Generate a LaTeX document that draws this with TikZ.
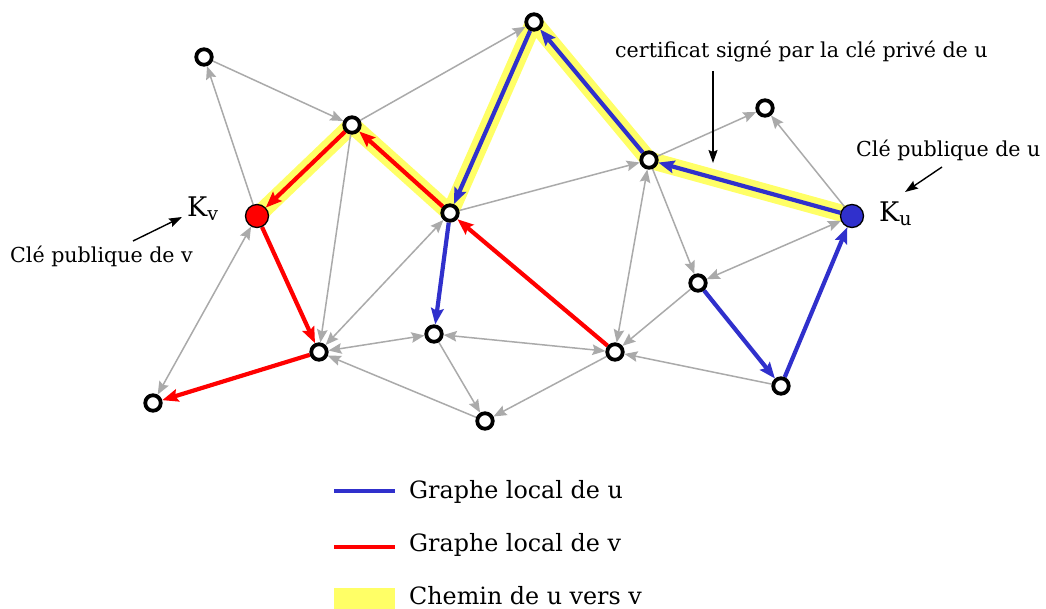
\documentclass[tikz,border=0pt]{standalone}
\usepackage{fontspec}
\setmainfont{DejaVu Serif}
\usetikzlibrary{arrows.meta}
\definecolor{ublue}{RGB}{48,48,204}
\definecolor{vred}{RGB}{255,0,0}
\definecolor{hlyellow}{RGB}{255,255,102}
\definecolor{edgegray}{RGB}{170,170,170}
\pgfdeclarelayer{bg}
\pgfsetlayers{bg,main}

\begin{document}
\begin{tikzpicture}[x=1pt,y=-1pt,
  peer/.style={circle,draw=black,fill=white,line width=3.8pt,minimum size=15.5pt,inner sep=0pt},
  keypeer/.style={circle,draw=black,line width=1.3pt,minimum size=23pt,inner sep=0pt},
  graytip/.tip={Stealth[length=13pt,width=10.5pt,inset=2pt]},
  colortip/.tip={Stealth[length=16pt,width=12.5pt,inset=2.5pt]},
  link/.style={draw=edgegray,line width=1.5pt,-graytip},
  bilink/.style={draw=edgegray,line width=1.5pt,graytip-graytip},
  ulink/.style={draw=ublue,line width=4.2pt,-colortip},
  vlink/.style={draw=vred,line width=4.2pt,-colortip},
  trail/.style={draw=hlyellow,line width=17pt},
  note/.style={inner sep=0pt,anchor=base west,font=\fontsize{20.6}{24}\selectfont},
  keyname/.style={inner sep=0pt,anchor=base west,font=\fontsize{27}{30}\selectfont},
  legendtext/.style={inner sep=0pt,anchor=base west,font=\fontsize{23.8}{27}\selectfont},
  pointer/.style={draw=black,line width=1.4pt,-{Stealth[length=13pt,width=9pt,inset=2pt]}}
]
\useasboundingbox (0,0) rectangle (1046,609);

% peers
\node[peer] (a) at (204,57) {};
\node[peer] (b) at (352,125) {};
\node[keypeer,fill=vred] (v) at (257,216) {};
\node[peer] (c) at (534,22) {};
\node[peer] (d) at (450,213) {};
\node[peer] (e) at (649,160) {};
\node[peer] (f) at (765,108) {};
\node[keypeer,fill=ublue] (u) at (852,216) {};
\node[peer] (g) at (698,283) {};
\node[peer] (h) at (319,352) {};
\node[peer] (i) at (434,334) {};
\node[peer] (j) at (615,352) {};
\node[peer] (k) at (781,386) {};
\node[peer] (l) at (153,403) {};
\node[peer] (m) at (485,421) {};

\begin{pgfonlayer}{bg}
  \fill[white] (0,0) rectangle (1046,609);

  % path from u to v
  \draw[trail] (u.center) -- (e.center);
  \draw[trail] (e.center) -- (c.center);
  \draw[trail] (c.center) -- (d.center);
  \draw[trail] (d.center) -- (b.center);
  \draw[trail] (b.center) -- (v.center);

  % remaining links of the network
  \draw[link] (a) -- (b);
  \draw[link] (v) -- (a);
  \draw[link] (b) -- (c);
  \draw[link] (b) -- (h);
  \draw[link] (d) -- (e);
  \draw[link] (e) -- (f);
  \draw[link] (u) -- (f);
  \draw[link] (e) -- (g);
  \draw[bilink] (u) -- (g);
  \draw[bilink] (e) -- (j);
  \draw[link] (g) -- (j);
  \draw[link] (k) -- (j);
  \draw[bilink] (d) -- (h);
  \draw[bilink] (h) -- (i);
  \draw[bilink] (i) -- (j);
  \draw[link] (i) -- (m);
  \draw[link] (j) -- (m);
  \draw[link] (m) -- (h);
  \draw[bilink] (v) -- (l);

  % local graph of u
  \draw[ulink] (u) -- (e);
  \draw[ulink] (e) -- (c);
  \draw[ulink] (c) -- (d);
  \draw[ulink] (d) -- (i);
  \draw[ulink] (g) -- (k);
  \draw[ulink] (k) -- (u);

  % local graph of v
  \draw[vlink] (d) -- (b);
  \draw[vlink] (b) -- (v);
  \draw[vlink] (v) -- (h);
  \draw[vlink] (h) -- (l);
  \draw[vlink] (j) -- (d);
\end{pgfonlayer}

% key labels
\node[keyname] (kv) at (187,217) {K\lower4pt\hbox{\fontsize{19}{22}\selectfont v}};
\node[keyname] (ku) at (879,222) {K\lower4pt\hbox{\fontsize{19}{22}\selectfont u}};

% annotations
\node[note] (cert) at (615,58) {certificat signé par la clé privé de u};
\coordinate (certFrom) at (713,71);
\coordinate (certTo) at (713,163);
\draw[pointer] (certFrom) -- (certTo);

\node[note] (pubu) at (856,157) {Clé publique de u};
\coordinate (pubuFrom) at (942,167);
\coordinate (pubuTo) at (905,192);
\draw[pointer] (pubuFrom) -- (pubuTo);

\node[note] (pubv) at (10,263) {Clé publique de v};
\coordinate (pubvFrom) at (133,241);
\coordinate (pubvTo) at (182,217);
\draw[pointer] (pubvFrom) -- (pubvTo);

% legend
\coordinate (lgU1) at (334,491);
\coordinate (lgU2) at (395,491);
\coordinate (lgV1) at (334,547);
\coordinate (lgV2) at (395,547);
\draw[ublue,line width=4.5pt] (lgU1) -- (lgU2);
\draw[vred,line width=4.5pt] (lgV1) -- (lgV2);
\fill[hlyellow] (334,588) rectangle (395,612);
\node[legendtext] (lgUtext) at (409,498) {Graphe local de u};
\node[legendtext] (lgVtext) at (409,551) {Graphe local de v};
\node[legendtext] (lgPtext) at (409,604) {Chemin de u vers v};
\end{tikzpicture}
\end{document}
